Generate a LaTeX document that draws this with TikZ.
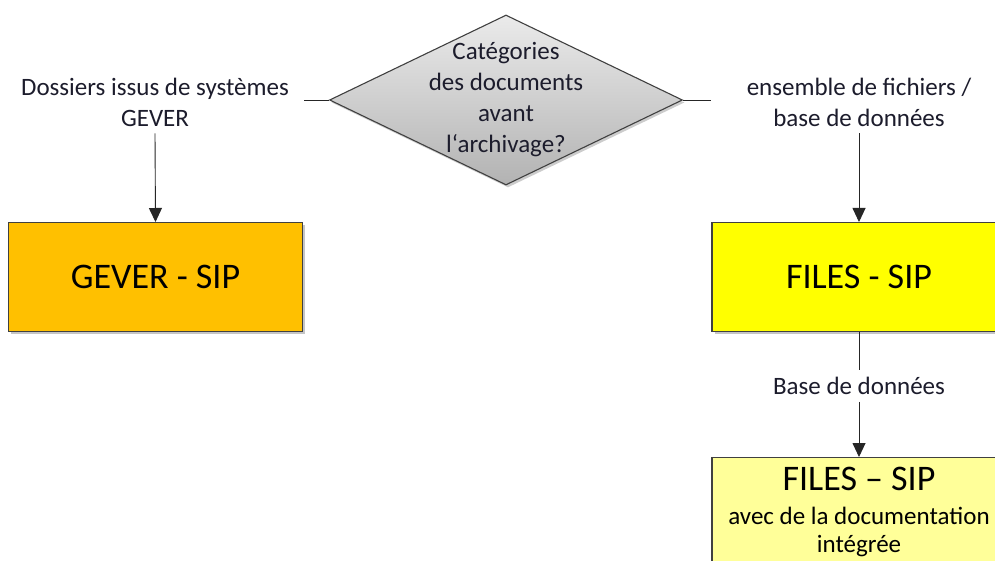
\documentclass[tikz,border=0pt]{standalone}
\usepackage{fontspec}
\setmainfont{Carlito}
\usetikzlibrary{shapes.geometric,arrows.meta,shadows}
\definecolor{labelink}{RGB}{28,28,44}
\definecolor{geverfill}{RGB}{255,192,0}
\definecolor{filesfill}{RGB}{255,255,0}
\definecolor{docfill}{RGB}{255,255,153}
\definecolor{edge}{RGB}{64,64,64}
\tikzset{
  small/.style={font=\fontsize{25}{31}\selectfont, text=labelink, align=center},
  label/.style={small, inner xsep=2pt, inner ysep=7pt},
  sipbox/.style={draw=edge, line width=1.2pt, minimum width=294pt, minimum height=109pt,
    inner sep=0pt, anchor=north, drop shadow={shadow xshift=2.5pt, shadow yshift=-2.5pt, opacity=0.45}},
  big/.style={font=\fontsize{36}{40}\selectfont, text=black},
  link/.style={draw=black!85, line width=0.9pt},
  arr/.style={link, -{Triangle[width=13pt,length=14pt]}},
}
\begin{document}
\begin{tikzpicture}[x=1pt,y=-1pt]
\path[use as bounding box, clip] (0,0) rectangle (995,561);
\fill[white] (0,0) rectangle (995,561);

% decision diamond
\node[diamond, draw=edge, line width=1.1pt, minimum width=353pt, minimum height=170pt,
  inner sep=0pt, top color=black!8, bottom color=black!30,
  drop shadow={shadow xshift=2pt, shadow yshift=-2.5pt, opacity=0.4}] (q) at (506,100) {};
\node[small] (qt) at (506,100) {Catégories\\des documents\\avant\\l‘archivage?};
\coordinate (ql) at (304,100);
\coordinate (qr) at (711,100);
\draw[link] (q.west) -- (ql);
\draw[link] (q.east) -- (qr);

% branch labels
\node[label] (lt) at (155,102) {Dossiers issus de systèmes\\GEVER};
\node[label] (rt) at (859,102) {ensemble de fichiers /\\base de données};

% SIP boxes
\node[sipbox, fill=geverfill] (gever) at (155.5,222) {};
\node[big] (gevert) at (gever.center) {GEVER - SIP};
\node[sipbox, fill=filesfill] (files) at (859,222) {};
\node[big] (filest) at (files.center) {FILES - SIP};
\node[sipbox, fill=docfill, minimum height=180pt] (doc) at (859,457) {};
\node[small, text=black, font=\fontsize{25}{28}\selectfont, anchor=north] (doct) at (859,464)
  {{\fontsize{36}{40}\selectfont FILES – SIP}\\[6pt]avec de la documentation\\intégrée};

\node[label] (mt) at (859,386) {Base de données};

% connectors
\draw[arr] (lt.south) -- (gever.north);
\draw[arr] (rt.south) -- (files.north);
\draw[link] (files.south) -- (mt.north);
\draw[arr] (mt.south) -- (doc.north);
\end{tikzpicture}
\end{document}
